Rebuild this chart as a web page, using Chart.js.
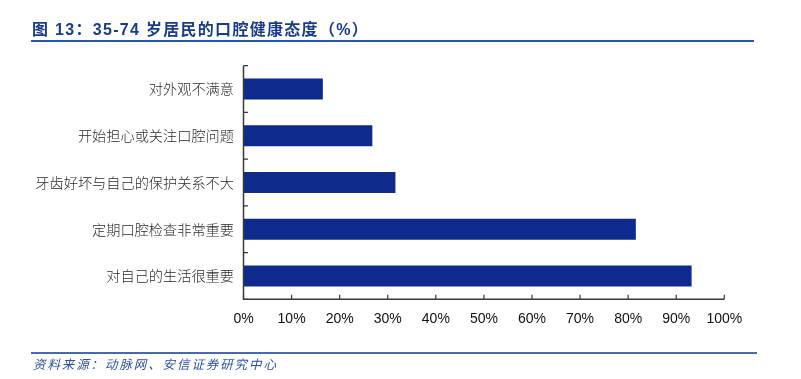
<!DOCTYPE html>
<html><head><meta charset="utf-8">
<script src="https://cdn.jsdelivr.net/npm/chart.js@4/dist/chart.umd.min.js"></script>
<style>
html,body{margin:0;padding:0;background:#fff;width:801px;height:379px;overflow:hidden;}
#wrap{position:absolute;left:0;top:0;width:801px;height:379px;}
#title{position:absolute;left:32px;top:16px;font-family:"Liberation Sans","Noto Sans CJK SC",sans-serif;font-weight:bold;font-size:16px;letter-spacing:1.3px;color:#1b3c8c;white-space:nowrap;}
#tline{position:absolute;left:31px;top:39.5px;width:723px;height:2px;background:#2d55a5;}
#fline{position:absolute;left:31px;top:351.5px;width:726px;height:2px;background:#4a6aac;}
#foot{position:absolute;left:33px;top:354px;font-family:"Noto Sans CJK SC",sans-serif;font-style:italic;font-size:12.5px;letter-spacing:1.9px;color:#2c4f9e;white-space:nowrap;}
</style></head>
<body>
<div id="wrap"><canvas id="c" width="801" height="379"></canvas></div>
<div id="title">图 13：35-74 岁居民的口腔健康态度（%）</div>
<div id="tline"></div>
<div id="fline"></div>
<div id="foot">资料来源：动脉网、安信证券研究中心</div>
<script>
const categories = ["对外观不满意","开始担心或关注口腔问题","牙齿好坏与自己的保护关系不大","定期口腔检查非常重要","对自己的生活很重要"];
const values = [16.5, 26.8, 31.6, 81.6, 93.2];
const xTicks = [0,10,20,30,40,50,60,70,80,90,100];

const axisPlugin = {
  id: 'axisPlugin',
  afterDraw(chart){
    const ctx = chart.ctx, a = chart.chartArea;
    const xs = chart.scales.x, ys = chart.scales.y;
    ctx.save();
    ctx.strokeStyle = '#3a3a3a';
    ctx.lineWidth = 1.5;
    ctx.beginPath();
    ctx.moveTo(a.left, a.top); ctx.lineTo(a.left, a.bottom); ctx.lineTo(a.right, a.bottom);
    ctx.stroke();
    ctx.lineWidth = 1.2;
    ctx.beginPath();
    xTicks.forEach(v=>{ const px = xs.getPixelForValue(v); ctx.moveTo(px, a.bottom); ctx.lineTo(px, a.bottom-4.5); });
    const n = categories.length;
    const step = ys.getPixelForValue(1)-ys.getPixelForValue(0);
    for(let i=0;i<=n;i++){
      const py = ys.getPixelForValue(0) - step/2 + i*step;
      ctx.moveTo(a.left, py); ctx.lineTo(a.left+4.5, py);
    }
    ctx.stroke();
    ctx.restore();
  }
};

new Chart(document.getElementById('c'), {
  type: 'bar',
  data: { labels: categories, datasets: [{ data: values, backgroundColor: '#0e2a8d', borderWidth: 0, barPercentage: 0.45, categoryPercentage: 1 }] },
  options: {
    indexAxis: 'y',
    responsive: false,
    animation: false,
    layout: { padding: { left: 0, right: 76.7, top: 65.7, bottom: 0 } },
    plugins: { legend: { display: false }, tooltip: { enabled: false } },
    scales: {
      x: {
        min: 0, max: 100,
        afterBuildTicks(s){ s.ticks = xTicks.map(v=>({value:v})); },
        afterFit(s){ s.height = 379 - 299.3; },
        grid: { display: false, drawTicks: false },
        border: { display: false },
        ticks: { padding: 11, color: '#111', font: { family: 'Liberation Sans', size: 14 }, callback: v => v + '%' }
      },
      y: {
        afterFit(s){ s.width = 243.5; },
        grid: { display: false, drawTicks: false },
        border: { display: false },
        ticks: { padding: 9.5, color: '#2a2a2a', font: { family: 'Noto Sans CJK SC', size: 14.2, weight: 300 } }
      }
    }
  },
  plugins: [axisPlugin]
});
</script>
</body></html>
